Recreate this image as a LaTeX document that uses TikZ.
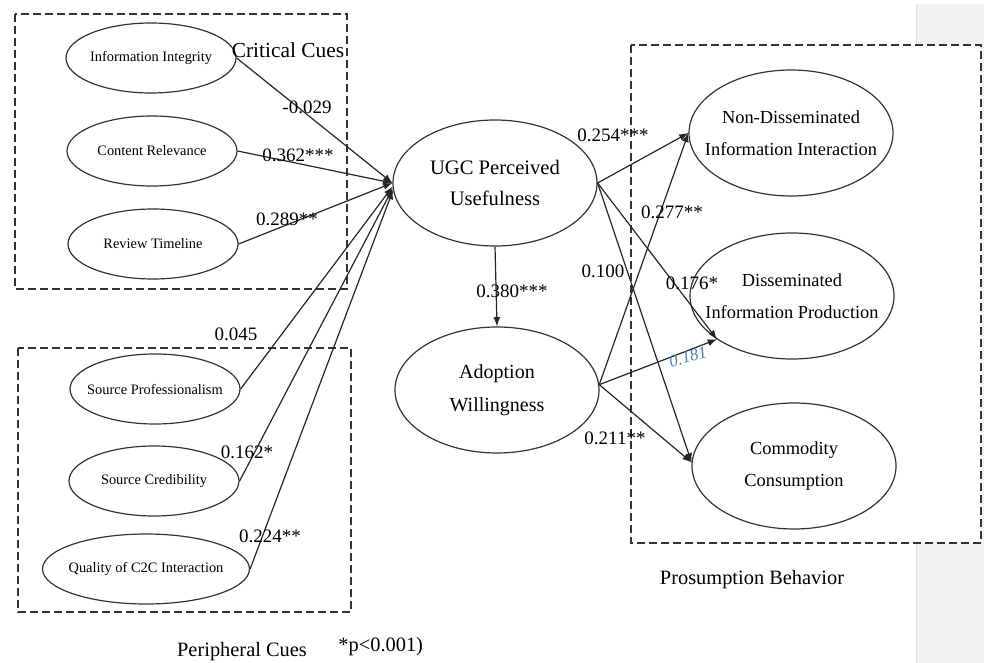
\documentclass[tikz,border=0pt]{standalone}
\usepackage{fontspec}
\setmainfont{Liberation Serif}
\usetikzlibrary{shapes.geometric,positioning}

\begin{document}
\begin{tikzpicture}[x=0.5pt,y=-0.5pt,
  cue/.style={ellipse,draw=black!80,line width=0.6pt,inner xsep=-6pt,minimum width=85pt,minimum height=35pt,font=\fontsize{7.2}{9}\selectfont},
  construct/.style={ellipse,draw=black!80,line width=0.6pt,inner xsep=-10pt,minimum width=102pt,minimum height=63pt,align=center,font=\fontsize{9.2}{16}\selectfont},
  coef/.style={font=\fontsize{9.5}{11}\selectfont},
  effect/.style={-latex,line width=0.6pt,black!85},
  groupbox/.style={dash pattern=on 4pt off 2pt,line width=1pt,black!80}]
\tikzstyle{every node}+=[inner sep=0pt]
\useasboundingbox (0,0) rectangle (984,663);
\fill [black!5] (916,4) rectangle (984,663);
\draw [black!12] (916,4) -- (916,663);
\fill [white] (631,45) rectangle (981,543);
\draw [groupbox] (15,14) rectangle (347,289);
\draw [groupbox] (18,348) rectangle (351,612);
\draw [groupbox] (631,45) rectangle (981,543);
\node [cue] (integrity) at (151,58) {Information Integrity};
\node [cue] (relevance) at (152,151) {Content Relevance};
\node [cue] (timeline) at (153,244) {Review Timeline};
\node [cue] (profess) at (155,389) {Source Professionalism};
\node [cue] (credib) at (154,481) {Source Credibility};
\node [cue,minimum width=103.5pt] (ctoc) at (146,569) {Quality of C2C Interaction};
\node [construct,font=\fontsize{10.3}{15.5}\selectfont] (ugc) at (495,183) {UGC Perceived\\Usefulness};
\node [construct,font=\fontsize{10}{16.5}\selectfont] (adopt) at (497,390) {Adoption\\Willingness};
\node [construct] (nondis) at (791,133) {Non-Disseminated\\Information Interaction};
\node [construct] (dissem) at (792,296) {Disseminated\\Information Production};
\node [construct] (commod) at (794,466) {Commodity\\Consumption};
\draw [effect] (integrity.east) -- (ugc.west);
\draw [effect] (relevance.east) -- (ugc.west);
\draw [effect] (timeline.east) -- (ugc.west);
\draw [effect] (profess.east) -- (ugc.182);
\draw [effect] (credib.east) -- (ugc.183);
\draw [effect] (ctoc.east) -- (ugc.184);
\draw [effect] (ugc.south) -- (adopt.north);
\draw [effect] (ugc.east) -- (nondis.west);
\draw [effect] (ugc.east) -- (dissem.210);
\draw [effect] (ugc.east) -- (commod.178);
\draw [effect] (adopt.3) -- (nondis.west);
\draw [effect] (adopt.3) -- (dissem.210);
\draw [effect] (adopt.3) -- (commod.178);
\node [font=\fontsize{10.7}{12}\selectfont] (critical) at (288,50) {Critical Cues};
\node [font=\fontsize{10.2}{12}\selectfont] (peripheral) at (242,652) {Peripheral Cues};
\node [font=\fontsize{10.2}{12}\selectfont,anchor=west] (signif) at (338,647) {*p<0.001)};
\node [font=\fontsize{10.2}{12}\selectfont] (prosum) at (752,580) {Prosumption Behavior};
\node [coef] (c1) at (307,107) {-0.029};
\node [coef] (c2) at (298,155) {0.362***};
\node [coef] (c3) at (287,219) {0.289**};
\node [coef] (c4) at (236,334) {0.045};
\node [coef] (c5) at (247,452) {0.162*};
\node [coef] (c6) at (270,536) {0.224**};
\node [coef] (c7) at (512,291) {0.380***};
\node [coef] (c8) at (613,135) {0.254***};
\node [coef] (c9) at (672,212) {0.277**};
\node [coef] (c10) at (603,271) {0.100};
\node [coef] (c11) at (692,283) {0.176*};
\node [coef] (c12) at (615,438) {0.211**};
\node [font=\itshape\fontsize{8.5}{10}\selectfont,text={rgb,255:red,80;green,125;blue,190},rotate=15] (c13) at (688,357) {0.181};
\end{tikzpicture}
\end{document}
